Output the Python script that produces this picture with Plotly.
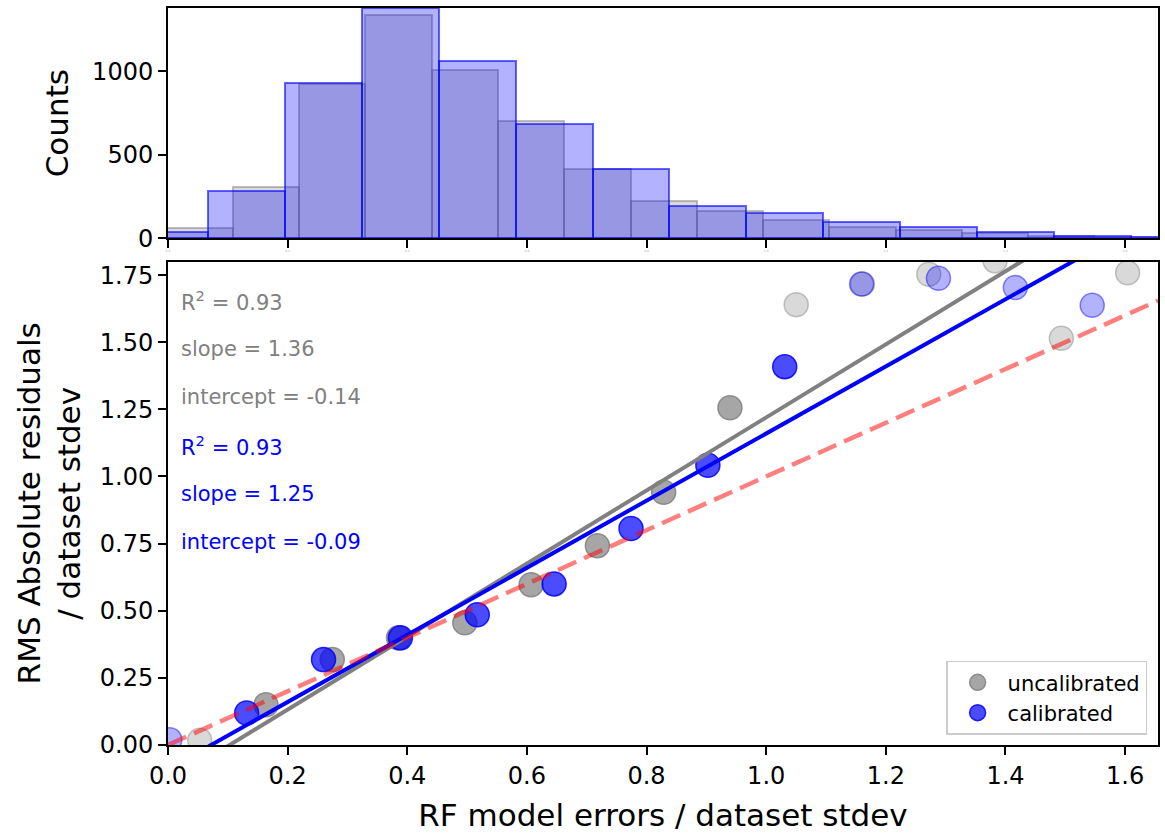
import plotly.graph_objects as go

# Histogram bins (centres) and counts of the model-error distribution
uncal_centers = [0.053, 0.1638, 0.2746, 0.3854, 0.4962, 0.607, 0.7178, 0.8286,
                 0.9394, 1.0502, 1.161, 1.2718, 1.3826, 1.4934, 1.6042]
uncal_counts = [60, 306, 925, 1336, 1010, 704, 414, 226, 162, 110, 70, 50, 30, 14, 10]
cal_centers = [0.003, 0.1315, 0.26, 0.3885, 0.517, 0.6455, 0.774, 0.9025,
               1.031, 1.1595, 1.288, 1.4165, 1.545, 1.6735]
cal_counts = [36, 284, 930, 1380, 1060, 684, 414, 194, 154, 100, 66, 38, 14, 8]
uncal_width = 0.1108
cal_width = 0.12845

# RMS of absolute residuals in each bin
uncal_rms = [0.018, 0.150, 0.318, 0.399, 0.455, 0.597, 0.742, 0.941, 1.256,
             1.640, 1.717, 1.753, 1.803, 1.515, 1.759]
cal_rms = [0.020, 0.119, 0.318, 0.399, 0.485, 0.600, 0.806, 1.042, 1.409,
           1.717, 1.738, 1.704, 1.638]

# Linear fit statistics
fit_r2 = [0.93, 0.93]
fit_slope = [1.36, 1.25]
fit_intercept = [-0.14, -0.09]

x_ticks = [0.0, 0.2, 0.4, 0.6, 0.8, 1.0, 1.2, 1.4, 1.6]
y_ticks = [0.0, 0.25, 0.5, 0.75, 1.0, 1.25, 1.5, 1.75]
count_ticks = [0, 500, 1000]

X_MAX = 1.655
Y_MAX = 1.80
FONT = "DejaVu Sans"
GRAY = (128, 128, 128)
BLUE = (0, 0, 255)


def rgba(c, a):
    return f"rgba({c[0]},{c[1]},{c[2]},{a})"


def point_alpha(counts):
    # well-populated bins are drawn more opaque
    return [0.7 if c > 150 else 0.3 for c in counts]


fig = go.Figure()

# --- top panel: histograms ---
fig.add_trace(go.Bar(
    x=uncal_centers, y=uncal_counts, width=uncal_width,
    marker=dict(color=rgba(GRAY, 0.3), line=dict(color=rgba(GRAY, 0.5), width=2)),
    xaxis="x2", yaxis="y2", showlegend=False, hoverinfo="skip"))
fig.add_trace(go.Bar(
    x=cal_centers, y=cal_counts, width=cal_width,
    marker=dict(color=rgba(BLUE, 0.3), line=dict(color=rgba(BLUE, 0.6), width=2)),
    xaxis="x2", yaxis="y2", showlegend=False, hoverinfo="skip"))

# --- bottom panel: binned RMS residuals ---
for centers, rms, counts, col in [(uncal_centers, uncal_rms, uncal_counts, GRAY),
                                  (cal_centers, cal_rms, cal_counts, BLUE)]:
    alphas = point_alpha(counts[:len(rms)])
    fig.add_trace(go.Scatter(
        x=centers[:len(rms)], y=rms, mode="markers",
        marker=dict(size=24,
                    color=[rgba(col, a) for a in alphas],
                    line=dict(color=[rgba(col, min(1, a + 0.15)) for a in alphas], width=1.5)),
        showlegend=False, xaxis="x", yaxis="y"))

# fitted lines and identity line
xs = [0.0, X_MAX]
for slope, icpt, col in zip(fit_slope, fit_intercept, [GRAY, BLUE]):
    fig.add_trace(go.Scatter(
        x=xs, y=[slope * v + icpt for v in xs], mode="lines",
        line=dict(color=rgba(col, 1), width=4), showlegend=False,
        xaxis="x", yaxis="y"))
fig.add_trace(go.Scatter(
    x=xs, y=xs, mode="lines",
    line=dict(color="rgba(255,0,0,0.5)", width=4.5, dash="20px,8.5px"),
    showlegend=False, xaxis="x", yaxis="y"))

# legend entries
for name, col in [("uncalibrated", GRAY), ("calibrated", BLUE)]:
    fig.add_trace(go.Scatter(
        x=[None], y=[None], mode="markers", name=name,
        marker=dict(size=24, color=rgba(col, 0.7), line=dict(color=rgba(col, 0.85), width=1.5)),
        xaxis="x", yaxis="y"))

# fit statistics text
stat_lines = []
for r2, s, b, col in zip(fit_r2, fit_slope, fit_intercept, ["gray", "blue"]):
    stat_lines += [(f"R<sup>2</sup> = {r2:.2f}", col),
                   (f"slope = {s:.2f}", col),
                   (f"intercept = {b:.2f}", col)]
for i, (txt, col) in enumerate(stat_lines):
    fig.add_annotation(
        text=txt, xref="x domain", yref="y domain",
        x=0.011, y=0.919 - 0.1 * i, xanchor="left", yanchor="middle",
        showarrow=False, font=dict(family=FONT, size=21, color=col))

axis_common = dict(showline=True, linecolor="black", linewidth=2, mirror=True,
                   ticks="outside", ticklen=8, tickwidth=2, tickcolor="black",
                   showgrid=False, zeroline=False,
                   tickfont=dict(family=FONT, size=24, color="black"))

fig.update_layout(
    width=1165, height=837,
    margin=dict(l=168, r=5, t=8, b=92),
    paper_bgcolor="white", plot_bgcolor="white",
    barmode="overlay", bargap=0,
    font=dict(family=FONT, color="black"),
    xaxis=dict(domain=[0, 1], anchor="y", range=[0, X_MAX],
               tickvals=x_ticks, ticktext=[f"{v:.1f}" for v in x_ticks],
               title=dict(text="RF model errors / dataset stdev",
                          font=dict(family=FONT, size=31), standoff=16),
               **axis_common),
    yaxis=dict(domain=[0, 0.6558], anchor="x", range=[0, Y_MAX],
               tickvals=y_ticks, ticktext=[f"{v:.2f}" for v in y_ticks],
               title=dict(text="RMS Absolute residuals<br>/ dataset stdev",
                          font=dict(family=FONT, size=31), standoff=10),
               **axis_common),
    xaxis2=dict(domain=[0, 1], anchor="y2", range=[0, X_MAX], matches="x",
                tickvals=x_ticks, ticktext=[f"{v:.1f}" for v in x_ticks],
                **{**axis_common, "tickfont": dict(family=FONT, size=3, color="#aaaaaa")}),
    yaxis2=dict(domain=[0.6875, 1], anchor="x2", range=[0, 1380],
                tickvals=count_ticks,
                title=dict(text="Counts", font=dict(family=FONT, size=31), standoff=14),
                **axis_common),
    legend=dict(x=0.989, y=0.014, xanchor="right", yanchor="bottom",
                bgcolor="rgba(255,255,255,0.8)", bordercolor="#cccccc", borderwidth=1.5,
                font=dict(family=FONT, size=21, color="black"),
                itemwidth=50, tracegroupgap=4),
)

fig.write_html("out.html")
